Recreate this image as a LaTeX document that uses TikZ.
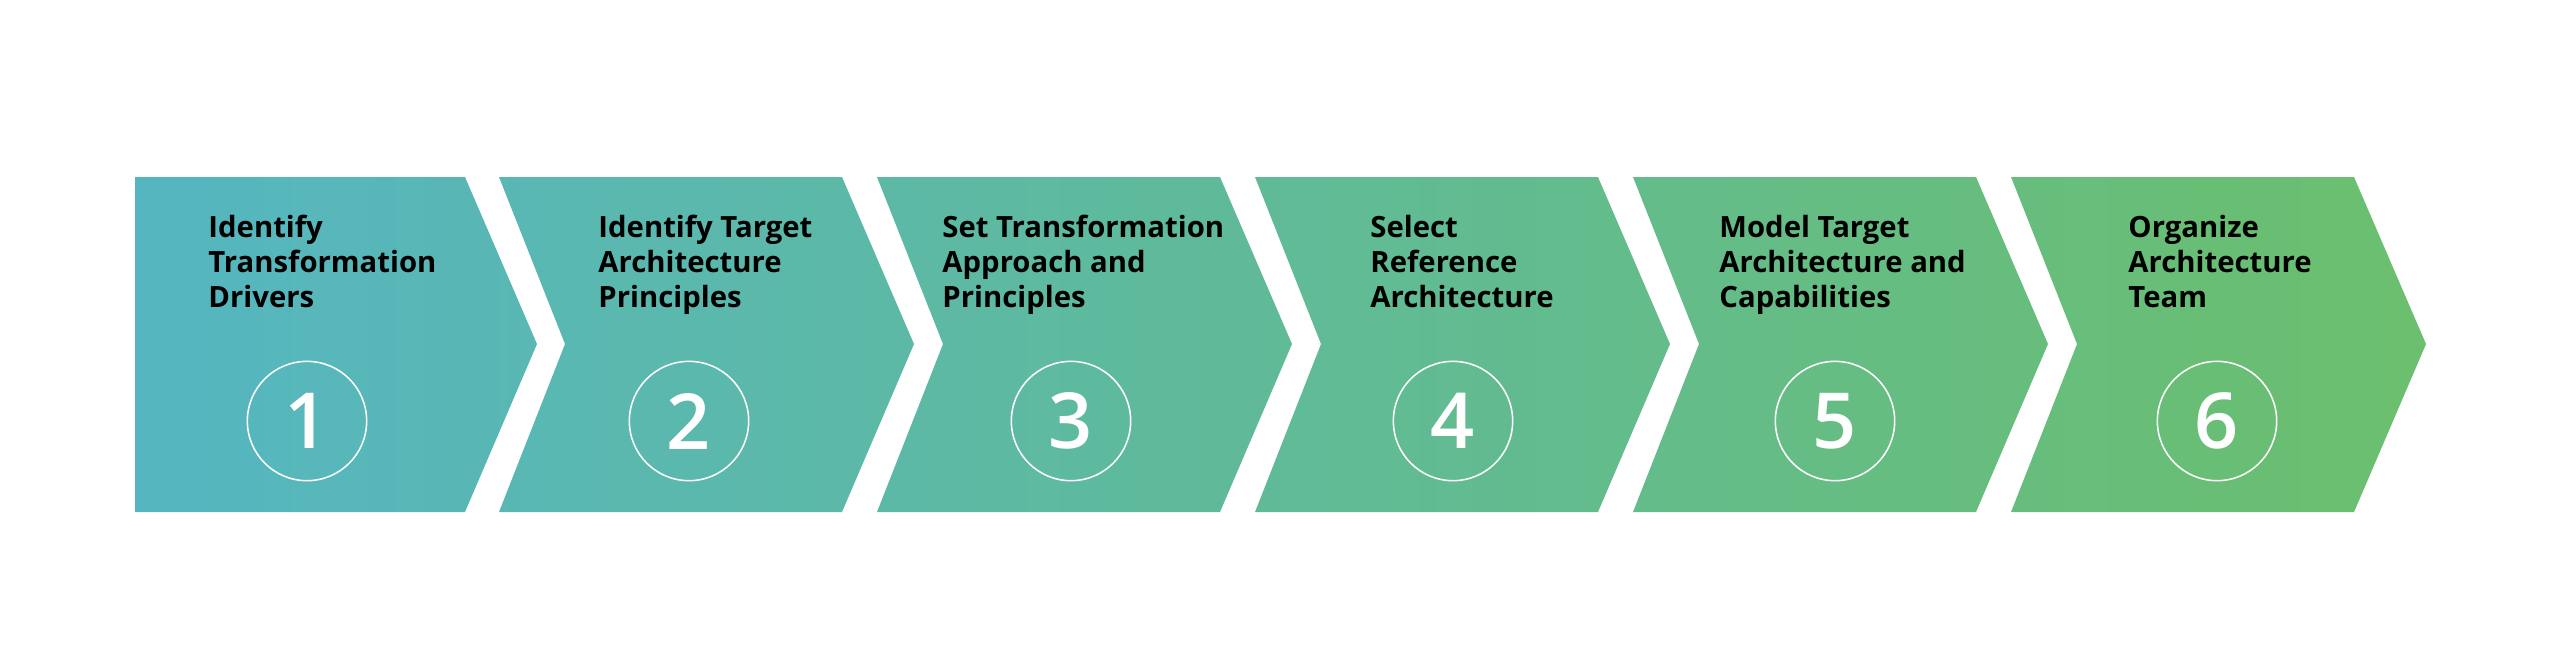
\documentclass[tikz,border=0pt]{standalone}
\usepackage{fontspec}
\setsansfont{Open Sans}
\IfFontExistsTF{Open Sans Semibold}
  {\newfontfamily\numfont{Open Sans Semibold}}
  {\IfFontExistsTF{Open Sans SemiBold}
    {\newfontfamily\numfont{Open Sans SemiBold}}
    {\newfontfamily\numfont{Open Sans}[FakeBold=2]}}
\usepackage{tikz}
\definecolor{stepleft}{HTML}{55B6C1}
\definecolor{stepright}{HTML}{6BBF6E}
\tikzset{
  steptext/.style={anchor=base west, inner sep=0pt, align=left, text=black,
    font=\sffamily\bfseries\fontsize{12.5}{14.9}\selectfont},
  stepnum/.style={circle, draw=white, line width=0.65pt, minimum size=1.79cm,
    inner sep=0pt, text=white, font=\numfont\fontsize{33}{33}\selectfont}
}
\begin{document}
\begin{tikzpicture}[scale=0.15]
\useasboundingbox (0,0) rectangle (256,-67.1);
% chevrons, one path so the gradient runs across all six
\shade [left color=stepleft, right color=stepright]
  (13.5,-17.7) -- (46.5,-17.7) -- (53.7,-34.4) -- (46.5,-51.2) -- (13.5,-51.2) -- cycle
  (49.9,-17.7) -- (84.2,-17.7) -- (91.4,-34.4) -- (84.2,-51.2) -- (49.9,-51.2) -- (56.5,-34.4) -- cycle
  (87.7,-17.7) -- (122.0,-17.7) -- (129.2,-34.4) -- (122.0,-51.2) -- (87.7,-51.2) -- (94.3,-34.4) -- cycle
  (125.5,-17.7) -- (159.8,-17.7) -- (167.0,-34.4) -- (159.8,-51.2) -- (125.5,-51.2) -- (132.1,-34.4) -- cycle
  (163.3,-17.7) -- (197.6,-17.7) -- (204.8,-34.4) -- (197.6,-51.2) -- (163.3,-51.2) -- (169.9,-34.4) -- cycle
  (201.1,-17.7) -- (235.4,-17.7) -- (242.6,-34.4) -- (235.4,-51.2) -- (201.1,-51.2) -- (207.7,-34.4) -- cycle;
% titles (base is the last line)
\node [steptext] (t1) at (20.8,-30.7) {Identify\\Transformation\\Drivers};
\node [steptext] (t2) at (59.8,-30.7) {Identify Target\\Architecture\\Principles};
\node [steptext] (t3) at (94.2,-30.7) {Set Transformation\\Approach and\\Principles};
\node [steptext] (t4) at (137.0,-30.7) {Select\\Reference\\Architecture};
\node [steptext] (t5) at (171.9,-30.7) {Model Target\\Architecture and\\Capabilities};
\node [steptext] (t6) at (212.8,-30.7) {Organize\\Architecture\\Team};
% numbers
\node [stepnum] (c1) at (30.7,-42.1) {1};
\node [stepnum] (c2) at (68.9,-42.1) {2};
\node [stepnum] (c3) at (107.1,-42.1) {3};
\node [stepnum] (c4) at (145.3,-42.1) {4};
\node [stepnum] (c5) at (183.5,-42.1) {5};
\node [stepnum] (c6) at (221.7,-42.1) {6};
\end{tikzpicture}
\end{document}
